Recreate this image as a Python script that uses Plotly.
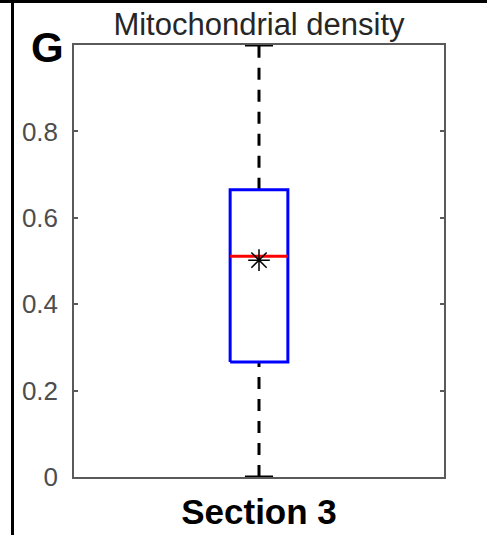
import plotly.graph_objects as go

categories = ["Section 3"]
q1 = [0.266]
median = [0.511]
q3 = [0.665]
whisker_low = [0.0]
whisker_high = [1.0]
mean = [0.502]
y_ticks = [0, 0.2, 0.4, 0.6, 0.8, 1.0]
y_ticklabels = ["0", "0.2", "0.4", "0.6", "0.8", ""]

W, H = 487, 535
ML, MR, MT, MB = 74, 43, 45, 58

hw = 0.078   # box half width
cw = 0.038   # cap half width
pos = list(range(1, len(categories) + 1))

fig = go.Figure()
for i, p in enumerate(pos):
    # whiskers
    fig.add_trace(go.Scatter(x=[p, p], y=[q3[i], whisker_high[i]], mode="lines",
                             line=dict(color="black", width=3, dash="12px,10px"),
                             hoverinfo="skip", showlegend=False))
    fig.add_trace(go.Scatter(x=[p, p], y=[whisker_low[i], q1[i]], mode="lines",
                             line=dict(color="black", width=3, dash="12px,10px"),
                             hoverinfo="skip", showlegend=False))
    # caps
    for v in (whisker_low[i], whisker_high[i]):
        fig.add_trace(go.Scatter(x=[p - cw, p + cw], y=[v, v], mode="lines",
                                 line=dict(color="black", width=3),
                                 hoverinfo="skip", showlegend=False))
    # box
    fig.add_trace(go.Scatter(x=[p - hw, p + hw, p + hw, p - hw, p - hw],
                             y=[q1[i], q1[i], q3[i], q3[i], q1[i]], mode="lines",
                             line=dict(color="#0000ff", width=3),
                             hoverinfo="skip", showlegend=False))
    # median
    fig.add_trace(go.Scatter(x=[p - hw, p + hw], y=[median[i], median[i]], mode="lines",
                             line=dict(color="#ff0000", width=3),
                             hoverinfo="skip", showlegend=False))
    # mean
    fig.add_trace(go.Scatter(x=[p], y=[mean[i]], mode="markers",
                             marker=dict(symbol="asterisk-open", size=18, color="black",
                                         line=dict(color="black", width=1.5)),
                             hoverinfo="skip", showlegend=False))

axis_col = "#5a5a5a"
fig.update_layout(
    width=W, height=H,
    margin=dict(l=ML, r=MR, t=MT, b=MB, autoexpand=False),
    paper_bgcolor="white", plot_bgcolor="white",
    font=dict(family="Liberation Sans, Arial, sans-serif"),
    title=dict(text="Mitochondrial density", x=0.5, xref="paper",
               y=1 - 24 / H, yanchor="middle", automargin=False,
               font=dict(size=31, color="#262626")),
    xaxis=dict(range=[0.5, len(categories) + 0.5], tickvals=pos,
               ticktext=["<b>%s</b>" % c for c in categories],
               tickfont=dict(size=35, color="black"), automargin=False,
               showline=True, mirror=True, linecolor=axis_col, linewidth=1.5,
               ticks="", showgrid=False, zeroline=False, ticklabelstandoff=3),
    yaxis=dict(range=[0, 1], tickvals=y_ticks, ticktext=y_ticklabels,
               tickfont=dict(size=26, color="#4d4d4d"), automargin=False,
               showline=True, mirror="ticks", linecolor=axis_col, linewidth=1.5,
               ticks="inside", ticklen=4, tickwidth=1.5, tickcolor=axis_col,
               showgrid=False, zeroline=False, ticklabelstandoff=9),
    annotations=[dict(text="<b>G</b>", xref="paper", yref="paper",
                      x=(47 - ML) / (W - ML - MR), y=(H - MB - 47) / (H - MT - MB),
                      xanchor="center", yanchor="middle", showarrow=False,
                      font=dict(size=42, color="black",
                                family="Liberation Sans, Arial, sans-serif"))],
)

pw = W - ML - MR
ph = H - MT - MB
def px_x(x):
    return (x - ML) / pw
def px_y(y):
    return (H - MB - y) / ph

# panel border decorations (left rule and top rule)
fig.add_shape(type="rect", xref="paper", yref="paper",
              x0=px_x(11), x1=px_x(14), y0=px_y(0), y1=px_y(H),
              line=dict(width=0), fillcolor="black", layer="above")
fig.add_shape(type="rect", xref="paper", yref="paper",
              x0=px_x(0), x1=px_x(W), y0=px_y(0), y1=px_y(3),
              line=dict(width=0), fillcolor="black", layer="above")

fig.write_html("out.html")
